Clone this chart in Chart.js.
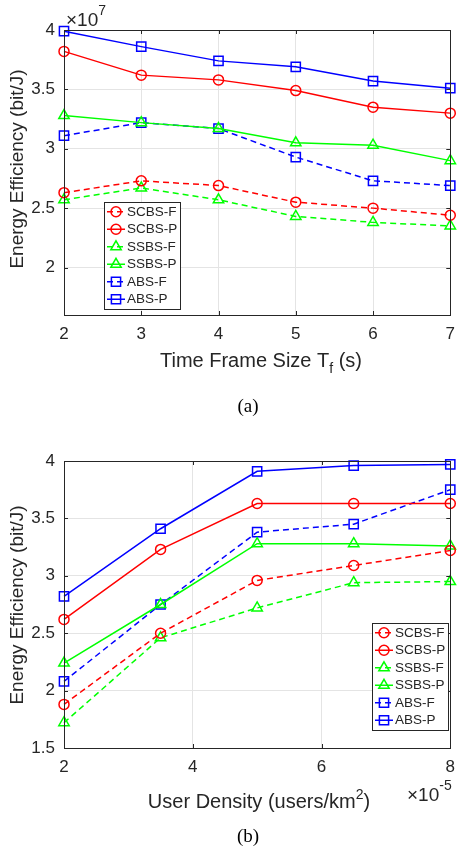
<!DOCTYPE html>
<html>
<head>
<meta charset="utf-8">
<script src="https://cdn.jsdelivr.net/npm/chart.js@4.4.1/dist/chart.umd.min.js"></script>
<style>
  body { margin: 0; background: #fff; }
  canvas { display: block; }
</style>
</head>
<body>
<canvas id="chartA" width="464" height="426"></canvas>
<canvas id="chartB" width="464" height="426"></canvas>
<script>
// series names (same order in both plots)
const seriesNames = ['SCBS-F', 'SCBS-P', 'SSBS-F', 'SSBS-P', 'ABS-F', 'ABS-P'];

// (a) energy efficiency vs time frame size, in units of 1e7 bit/J
const frameSizes = [2, 3, 4, 5, 6, 7];
const scbsFa = [2.63, 2.73, 2.69, 2.55, 2.50, 2.44];
const scbsPa = [3.82, 3.62, 3.58, 3.49, 3.35, 3.30];
const ssbsFa = [2.57, 2.67, 2.57, 2.43, 2.38, 2.35];
const ssbsPa = [3.28, 3.22, 3.17, 3.05, 3.03, 2.90];
const absFa  = [3.11, 3.22, 3.17, 2.93, 2.73, 2.69];
const absPa  = [3.99, 3.86, 3.74, 3.69, 3.57, 3.51];

// (b) energy efficiency vs user density (units of 1e-5 users/km^2), 1e7 bit/J
const userDensity = [2, 3.5, 5, 6.5, 8];
const scbsFb = [1.88, 2.50, 2.96, 3.09, 3.22];
const scbsPb = [2.62, 3.23, 3.63, 3.63, 3.63];
const ssbsFb = [1.72, 2.46, 2.72, 2.94, 2.95];
const ssbsPb = [2.24, 2.75, 3.28, 3.28, 3.26];
const absFb  = [2.08, 2.75, 3.38, 3.45, 3.75];
const absPb  = [2.82, 3.41, 3.91, 3.96, 3.97];

// tick labels
const xTicksA = [2, 3, 4, 5, 6, 7];
const yTicksA = [2, 2.5, 3, 3.5, 4];
const xTicksB = [2, 4, 6, 8];
const yTicksB = [1.5, 2, 2.5, 3, 3.5, 4];

// styles
const colors  = ['#ff0000', '#ff0000', '#00ff00', '#00ff00', '#0000ff', '#0000ff'];
const markers = ['circle', 'circle', 'triangle', 'triangle', 'rect', 'rect'];
const radii   = [5, 5, 6, 6, 6.5, 6.5];
const dashes  = [[6, 4], [], [6, 4], [], [6, 4], []];

const SANS = '"Liberation Sans", Arial, Helvetica, sans-serif';
const SERIF = '"Liberation Serif", "Times New Roman", serif';
const INK = '#262626';

function makeSets(xs, list) {
  return list.map((ys, i) => ({
    label: seriesNames[i],
    data: xs.map((x, k) => ({ x: x, y: ys[k] })),
    borderColor: colors[i],
    borderWidth: 1.5,
    borderDash: dashes[i],
    pointStyle: markers[i],
    pointRadius: radii[i],
    pointBorderColor: colors[i],
    pointBackgroundColor: 'rgba(0,0,0,0)',
    pointBorderWidth: 1.5,
    tension: 0,
    fill: false,
    clip: false
  }));
}

function drawRich(ctx, parts, cx, y, align) {
  let total = 0;
  parts.forEach(p => { ctx.font = p.size + 'px ' + SANS; p.w = ctx.measureText(p.t).width; total += p.w; });
  let x = align === 'left' ? cx : cx - total / 2;
  ctx.textAlign = 'left';
  ctx.textBaseline = 'alphabetic';
  parts.forEach(p => {
    ctx.font = p.size + 'px ' + SANS;
    ctx.fillText(p.t, x, y + (p.dy || 0));
    x += p.w;
  });
}

// frame, inner ticks, legend, titles and captions
const decor = {
  id: 'decor',
  afterDraw(chart, args, o) {
    const ctx = chart.ctx;
    const a = chart.chartArea;
    const xs = chart.scales.x, ys = chart.scales.y;
    ctx.save();
    ctx.strokeStyle = INK;
    ctx.lineWidth = 1;
    ctx.setLineDash([]);
    ctx.strokeRect(Math.round(a.left) + 0.5, Math.round(a.top) + 0.5,
      Math.round(a.right - a.left), Math.round(a.bottom - a.top));
    ctx.beginPath();
    xs.ticks.forEach(t => {
      const px = Math.round(xs.getPixelForValue(t.value)) + 0.5;
      ctx.moveTo(px, a.bottom); ctx.lineTo(px, a.bottom - 4);
      ctx.moveTo(px, a.top); ctx.lineTo(px, a.top + 4);
    });
    ys.ticks.forEach(t => {
      const py = Math.round(ys.getPixelForValue(t.value)) + 0.5;
      ctx.moveTo(a.left, py); ctx.lineTo(a.left + 4, py);
      ctx.moveTo(a.right, py); ctx.lineTo(a.right - 4, py);
    });
    ctx.stroke();

    // legend
    const L = o.legend;
    ctx.fillStyle = '#fff';
    ctx.fillRect(L.x, L.y, L.w, L.h);
    ctx.strokeStyle = INK;
    ctx.lineWidth = 1;
    ctx.strokeRect(L.x + 0.5, L.y + 0.5, L.w, L.h);
    const step = (L.h - 2) / chart.data.datasets.length;
    chart.data.datasets.forEach((ds, i) => {
      const cy = L.y + 1 + step * (i + 0.5);
      ctx.strokeStyle = ds.borderColor;
      ctx.lineWidth = 1.5;
      ctx.setLineDash(ds.borderDash);
      ctx.beginPath();
      ctx.moveTo(L.x + 3, cy); ctx.lineTo(L.x + 21, cy);
      ctx.stroke();
      ctx.setLineDash([]);
      ctx.fillStyle = 'rgba(0,0,0,0)';
      Chart.helpers.drawPoint(ctx, { pointStyle: ds.pointStyle, radius: ds.pointRadius, borderWidth: 1.5 }, L.x + 12, cy);
      ctx.fillStyle = INK;
      ctx.font = '13.5px ' + SANS;
      ctx.textAlign = 'left';
      ctx.textBaseline = 'middle';
      ctx.fillText(ds.label, L.x + 23, cy + 0.5);
    });

    // axis titles
    ctx.fillStyle = INK;
    ctx.save();
    ctx.translate(18, o.yTitleY);
    ctx.rotate(-Math.PI / 2);
    ctx.font = '19px ' + SANS;
    ctx.textAlign = 'center';
    ctx.textBaseline = 'middle';
    ctx.fillText('Energy Efficiency (bit/J)', 0, 0);
    ctx.restore();
    drawRich(ctx, o.xTitle, o.xTitleX, o.xTitleY, 'center');
    drawRich(ctx, o.exp.parts, o.exp.x, o.exp.y, 'left');

    // caption
    ctx.font = '19px ' + SERIF;
    ctx.textAlign = 'center';
    ctx.textBaseline = 'middle';
    ctx.fillStyle = '#000';
    ctx.fillText(o.caption, 248, o.captionY);
    ctx.restore();
  }
};

function axisOpts(min, max, ticks, fit) {
  return {
    type: 'linear',
    min: min,
    max: max,
    afterBuildTicks: s => { s.ticks = ticks.map(v => ({ value: v })); },
    afterFit: fit,
    grid: { color: '#e4e4e4', drawTicks: false },
    border: { display: false },
    ticks: {
      font: { size: 17, family: SANS },
      color: INK,
      autoSkip: false,
      maxRotation: 0,
      callback: v => String(v)
    }
  };
}

function build(id, xs, series, xr, xt, yr, yt, top, bottomH, deco) {
  const xa = axisOpts(xr[0], xr[1], xt, s => { s.height = bottomH; });
  xa.ticks.padding = 9;
  const ya = axisOpts(yr[0], yr[1], yt, s => { s.width = 64; });
  ya.ticks.padding = 9;
  return new Chart(document.getElementById(id), {
    type: 'line',
    data: { datasets: makeSets(xs, series) },
    options: {
      responsive: false,
      animation: false,
      devicePixelRatio: 1,
      layout: { padding: { top: top, right: 5, left: 0, bottom: 0 } },
      plugins: { legend: { display: false }, tooltip: { enabled: false }, decor: deco },
      scales: { x: xa, y: ya }
    },
    plugins: [decor]
  });
}

build('chartA', frameSizes, [scbsFa, scbsPa, ssbsFa, ssbsPa, absFa, absPa],
  [2, 7], xTicksA, [1.6, 4], yTicksA, 30, 111, {
    legend: { x: 104, y: 202, w: 76, h: 107 },
    yTitleY: 169,
    xTitle: [{ t: 'Time Frame Size T', size: 20 }, { t: 'f', size: 14, dy: 6 }, { t: ' (s)', size: 20 }],
    xTitleX: 261, xTitleY: 367,
    exp: { x: 66, y: 26, parts: [{ t: '\u00d710', size: 19 }, { t: '7', size: 14, dy: -11 }] },
    caption: '(a)', captionY: 407
  });

build('chartB', userDensity, [scbsFb, scbsPb, ssbsFb, ssbsPb, absFb, absPb],
  [2, 8], xTicksB, [1.5, 4], yTicksB, 35, 104, {
    legend: { x: 372, y: 197, w: 76, h: 107 },
    yTitleY: 179,
    xTitle: [{ t: 'User Density (users/km', size: 20 }, { t: '2', size: 14, dy: -9 }, { t: ')', size: 20 }],
    xTitleX: 259, xTitleY: 382,
    exp: { x: 407, y: 375, parts: [{ t: '\u00d710', size: 19 }, { t: '-5', size: 14, dy: -11 }] },
    caption: '(b)', captionY: 411
  });
</script>
</body>
</html>
